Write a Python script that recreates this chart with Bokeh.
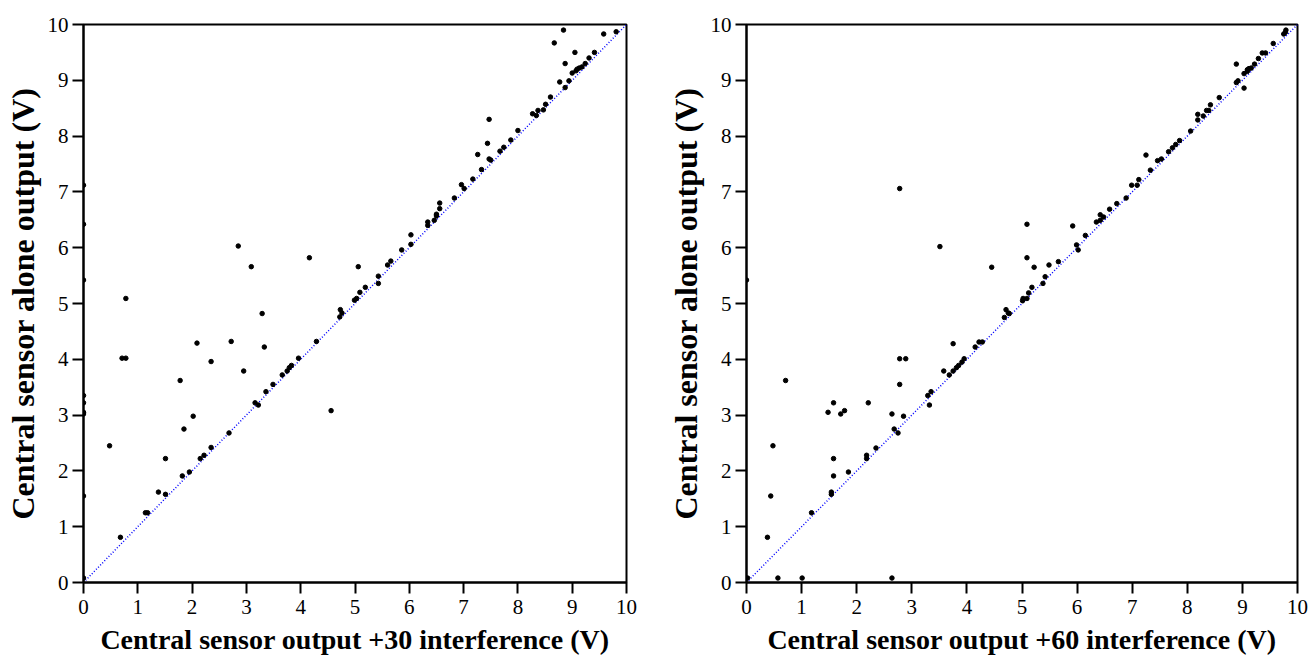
from bokeh.plotting import figure
from bokeh.layouts import row
from bokeh.models import FixedTicker, Range1d
from bokeh.embed import file_html
from bokeh.resources import INLINE

# ---- data: +30 interference ----
x30 = [0, 0, 0, 0.78, 2.85, 3.09, 4.16,
       3.29, 4.73, 4.76, 4.72, 4.99, 2.09, 2.72, 3.33, 0.71, 0.78, 2.35, 2.95, 4.29,
       3.96, 3.83, 3.79, 3.75, 3.66, 3.49, 3.36, 3.16, 3.22, 4.56, 1.78, 0, 0, 0, 0,
       2.02, 1.85, 2.68, 0.48, 2.35, 2.22, 2.15, 1.51, 1.95, 1.82, 1.38, 1.51, 0,
       1.14, 1.18, 0.68, 0,
       8.84, 9.58, 9.81, 8.67, 9.05, 9.41, 9.31, 9.24, 8.87, 9.18, 9.13, 9.09, 9.07,
       9.00, 8.94, 8.77, 8.87, 8.60, 8.51, 8.47, 8.37, 8.27, 8.34, 7.47, 8.00, 7.87,
       7.74, 7.67, 7.44, 7.26, 7.47, 7.50, 7.33, 7.17, 6.96, 7.01, 6.83, 6.56, 6.56,
       6.50, 6.50, 6.46, 6.34, 6.34, 6.03, 6.03, 5.86, 5.66, 5.60, 5.43, 5.43, 5.19,
       5.06, 5.09, 5.03]
y30 = [7.12, 6.42, 5.42, 5.09, 6.03, 5.66, 5.82,
       4.82, 4.89, 4.83, 4.76, 5.06, 4.29, 4.32, 4.22, 4.02, 4.02, 3.96, 3.79, 4.32,
       4.02, 3.89, 3.85, 3.79, 3.72, 3.55, 3.42, 3.22, 3.18, 3.08, 3.62, 3.35, 3.22, 3.05, 3.02,
       2.98, 2.75, 2.68, 2.45, 2.42, 2.28, 2.22, 2.22, 1.98, 1.91, 1.62, 1.58, 1.55,
       1.25, 1.25, 0.81, 0.08,
       9.90, 9.83, 9.87, 9.67, 9.50, 9.50, 9.40, 9.30, 9.30, 9.24, 9.22, 9.20, 9.17,
       9.13, 8.99, 8.97, 8.87, 8.70, 8.57, 8.47, 8.46, 8.40, 8.37, 8.30, 8.10, 7.93,
       7.80, 7.73, 7.87, 7.67, 7.59, 7.57, 7.40, 7.23, 7.13, 7.06, 6.89, 6.80, 6.70,
       6.60, 6.57, 6.49, 6.46, 6.40, 6.23, 6.06, 5.96, 5.76, 5.69, 5.49, 5.36, 5.29,
       5.66, 5.20, 5.09]

# ---- data: +60 interference ----
x60 = [0, 2.78, 3.51, 4.45,
       4.71, 4.75, 4.68, 4.77, 3.75, 4.15, 4.22, 4.28, 2.78, 2.89, 2.78, 3.95, 3.91,
       3.85, 3.81, 3.75, 3.58, 3.68, 0.71, 3.35, 3.29, 3.32, 1.58, 2.21, 1.48, 1.78,
       1.71, 2.64, 2.85, 2.68, 2.75, 0.48, 2.35, 2.18, 2.18, 1.58, 1.85, 1.58, 1.54,
       1.54, 0.44, 1.18, 0.38, 0.02, 0.57, 1.01, 2.64,
       9.79, 9.78, 9.75, 9.56, 9.36, 9.42, 9.29, 9.22, 8.89, 9.16, 9.09, 9.12, 9.09,
       9.03, 8.92, 8.89, 9.03, 8.58, 8.42, 8.39, 8.35, 8.19, 8.29, 8.19, 8.06, 7.86,
       7.79, 7.73, 7.66, 7.25, 7.53, 7.46, 7.33, 7.12, 6.99, 7.09, 6.89, 6.72, 6.59,
       6.42, 6.48, 6.42, 6.35, 6.15, 5.92, 5.99, 6.02, 5.66, 5.49, 5.42, 5.38, 5.22,
       5.09, 5.09, 5.18, 5.12, 5.09, 5.02, 5.01]
y60 = [5.42, 7.06, 6.02, 5.65,
       4.89, 4.83, 4.75, 4.82, 4.28, 4.22, 4.31, 4.31, 4.01, 4.01, 3.55, 4.01, 3.95,
       3.89, 3.85, 3.79, 3.79, 3.72, 3.62, 3.42, 3.35, 3.18, 3.22, 3.22, 3.05, 3.08,
       3.02, 3.02, 2.98, 2.75, 2.68, 2.45, 2.41, 2.28, 2.22, 2.22, 1.98, 1.91, 1.62,
       1.58, 1.55, 1.25, 0.81, 0.08, 0.08, 0.08, 0.08,
       9.90, 9.86, 9.83, 9.66, 9.49, 9.49, 9.39, 9.29, 9.29, 9.22, 9.19, 9.21, 9.16,
       9.12, 8.99, 8.96, 8.86, 8.69, 8.56, 8.46, 8.46, 8.39, 8.36, 8.29, 8.09, 7.92,
       7.85, 7.79, 7.72, 7.66, 7.59, 7.56, 7.39, 7.22, 7.12, 7.12, 6.89, 6.79, 6.69,
       6.59, 6.55, 6.49, 6.46, 6.22, 6.39, 6.05, 5.96, 5.75, 5.69, 5.48, 5.36, 5.65,
       6.42, 5.82, 5.29, 5.19, 5.09, 5.09, 5.05]

ref_line = [0, 10]
ticks = list(range(0, 11))
y_label = "Central sensor alone output (V)"
x_label_30 = "Central sensor output +30 interference (V)"
x_label_60 = "Central sensor output +60 interference (V)"

FONT = "Liberation Serif"


def make_fig(xs, ys, xlabel, fw, bl, br):
    p = figure(frame_width=fw, frame_height=558,
               min_border_left=bl, min_border_right=br,
               min_border_top=24, min_border_bottom=81,
               x_range=Range1d(0, 10), y_range=Range1d(0, 10),
               output_backend="svg", toolbar_location=None)
    p.grid.visible = False
    p.background_fill_color = "white"
    p.border_fill_color = "white"
    p.outline_line_color = "black"
    p.outline_line_width = 2
    p.outline_line_alpha = 1

    p.line(ref_line, ref_line, line_color="blue", line_dash="1 2", line_width=1.5)
    p.scatter(xs, ys, marker="circle", size=4.5, fill_color="black", line_color="black")

    for ax in (p.xaxis[0], p.yaxis[0]):
        ax.ticker = FixedTicker(ticks=ticks)
        ax.minor_tick_line_color = None
        ax.major_tick_in = 0
        ax.major_tick_out = 11
        ax.major_tick_line_width = 2
        ax.major_tick_line_color = "black"
        ax.axis_line_width = 2
        ax.axis_line_color = "black"
        ax.major_label_text_font = FONT
        ax.major_label_text_font_size = "21px"
        ax.major_label_text_color = "black"
        ax.axis_label_text_font = FONT
        ax.axis_label_text_font_style = "bold"
        ax.axis_label_text_color = "black"
    p.xaxis.axis_label = xlabel
    p.yaxis.axis_label = y_label
    p.xaxis.axis_label_text_font_size = "28px"
    p.yaxis.axis_label_text_font_size = "32px"
    p.xaxis.major_label_standoff = 6
    p.yaxis.major_label_standoff = 4
    p.xaxis.axis_label_standoff = 7
    p.yaxis.axis_label_standoff = 4
    return p


p1 = make_fig(x30, y30, x_label_30, 543, 83, 29)
p2 = make_fig(x60, y60, x_label_60, 551, 91, 13)

layout = row(p1, p2, spacing=0)
open("out.html", "w").write(file_html(layout, INLINE))
